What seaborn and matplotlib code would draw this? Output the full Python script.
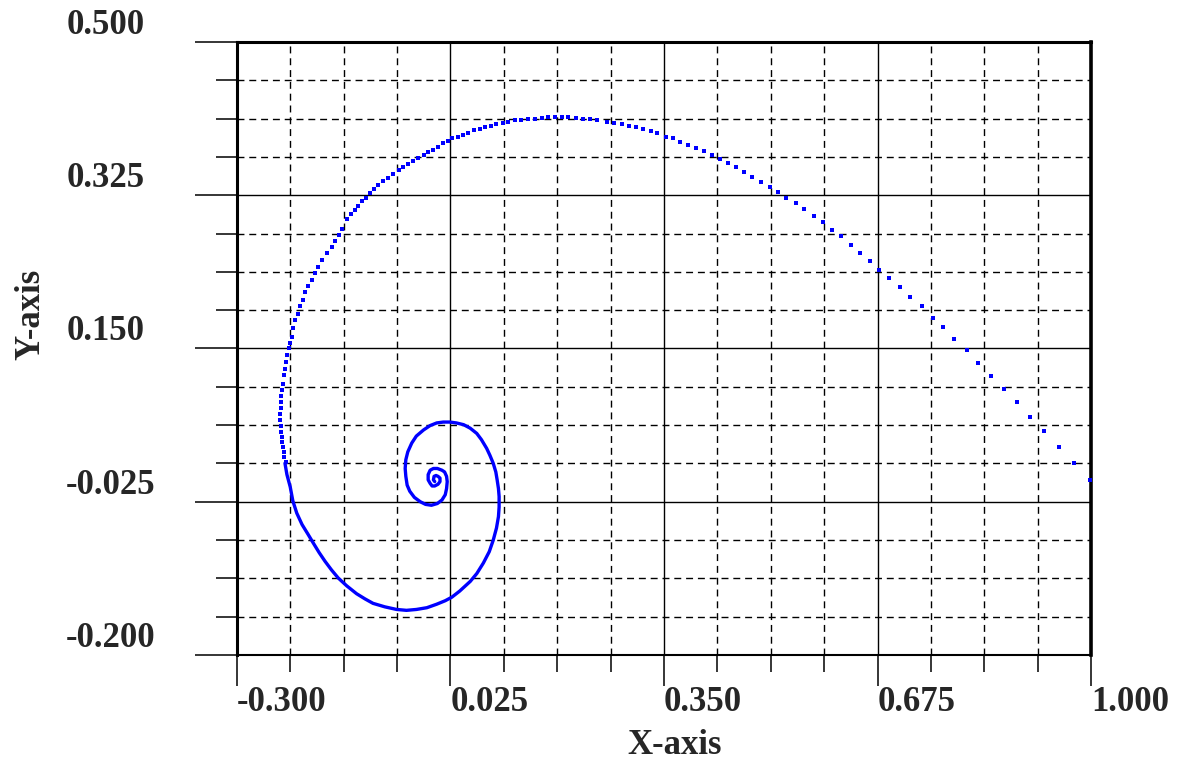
import numpy as np
import pandas as pd
import matplotlib
matplotlib.use("Agg")
import matplotlib.pyplot as plt
import seaborn as sns
from matplotlib.ticker import AutoMinorLocator

# Trayectoria: tramo de puntos sueltos (inicio rapido)
dots_x = [0.998, 0.974, 0.951, 0.929, 0.907, 0.887, 0.868, 0.848, 0.828, 0.811,
          0.791, 0.774, 0.759, 0.742, 0.725, 0.710, 0.693, 0.678, 0.664, 0.649,
          0.634, 0.619, 0.605, 0.592, 0.578, 0.563, 0.551, 0.536, 0.524, 0.511,
          0.497, 0.484, 0.472, 0.460, 0.447, 0.435, 0.423, 0.411, 0.398, 0.387,
          0.375, 0.364, 0.353, 0.340, 0.330, 0.318, 0.307, 0.296, 0.286, 0.274,
          0.263, 0.248, 0.237, 0.227, 0.216, 0.204, 0.194, 0.184, 0.174, 0.164,
          0.154, 0.143, 0.133, 0.123, 0.113, 0.105, 0.095, 0.087, 0.078, 0.070,
          0.061, 0.052, 0.044, 0.037, 0.028, 0.021, 0.014, 0.006, -0.001, -0.009,
          -0.016, -0.024, -0.032, -0.039, -0.047, -0.053, -0.062, -0.070, -0.077, -0.085,
          -0.091, -0.098, -0.104, -0.110, -0.116, -0.121, -0.126, -0.133, -0.140, -0.145,
          -0.151, -0.156, -0.163, -0.171, -0.176, -0.182, -0.186, -0.192, -0.196, -0.200,
          -0.204, -0.207, -0.211, -0.215, -0.217, -0.219, -0.221, -0.224, -0.225, -0.227,
          -0.229, -0.230, -0.232, -0.233, -0.233, -0.233, -0.234, -0.234, -0.233, -0.233,
          -0.232, -0.231, -0.230, -0.229, -0.228, -0.226]
dots_y = [0.000, 0.019, 0.037, 0.056, 0.072, 0.089, 0.104, 0.119, 0.133, 0.148,
          0.161, 0.174, 0.185, 0.198, 0.209, 0.220, 0.231, 0.240, 0.250, 0.259,
          0.268, 0.278, 0.285, 0.294, 0.301, 0.309, 0.316, 0.322, 0.329, 0.334,
          0.340, 0.346, 0.351, 0.357, 0.362, 0.366, 0.371, 0.376, 0.379, 0.382,
          0.386, 0.390, 0.392, 0.396, 0.398, 0.401, 0.403, 0.404, 0.406, 0.408,
          0.409, 0.411, 0.412, 0.412, 0.413, 0.414, 0.414, 0.414, 0.414, 0.413,
          0.412, 0.412, 0.411, 0.411, 0.409, 0.408, 0.406, 0.404, 0.403, 0.401,
          0.399, 0.396, 0.394, 0.392, 0.390, 0.387, 0.385, 0.380, 0.377, 0.374,
          0.371, 0.368, 0.364, 0.361, 0.357, 0.354, 0.349, 0.345, 0.341, 0.337,
          0.332, 0.328, 0.322, 0.318, 0.313, 0.308, 0.304, 0.298, 0.287, 0.280,
          0.273, 0.266, 0.259, 0.251, 0.243, 0.236, 0.228, 0.221, 0.214, 0.205,
          0.198, 0.189, 0.183, 0.173, 0.163, 0.156, 0.150, 0.143, 0.135, 0.127,
          0.120, 0.110, 0.103, 0.096, 0.089, 0.082, 0.075, 0.068, 0.062, 0.055,
          0.049, 0.043, 0.038, 0.032, 0.026, 0.020]

# Tramo denso (espiral final), se ve como trazo continuo
spiral_x = [-0.227, -0.224, -0.219, -0.215, -0.209, -0.201, -0.192, -0.184, -0.175, -0.166,
            -0.156, -0.146, -0.133, -0.118, -0.105, -0.093, -0.075, -0.057, -0.042, -0.027,
            -0.011, 0.004, 0.017, 0.027, 0.039, 0.055, 0.065, 0.075, 0.084, 0.090,
            0.095, 0.098, 0.099, 0.099, 0.098, 0.096, 0.094, 0.090, 0.085, 0.080,
            0.072, 0.065, 0.055, 0.045, 0.034, 0.024, 0.014, 0.004, -0.006, -0.016,
            -0.027, -0.034, -0.040, -0.043, -0.044, -0.043, -0.041, -0.037, -0.030, -0.021,
            -0.013, -0.004, 0.005, 0.012, 0.017, 0.019, 0.020, 0.019, 0.016, 0.012,
            0.005, -0.001, -0.006, -0.009, -0.009, -0.006, -0.003, 0.001, 0.006, 0.009,
            0.009, 0.006, 0.003, 0.000, -0.001, 0.001]
spiral_y = [0.019, 0.006, -0.008, -0.024, -0.038, -0.051, -0.062, -0.072, -0.083, -0.093,
            -0.103, -0.112, -0.121, -0.130, -0.136, -0.141, -0.145, -0.148, -0.149, -0.148,
            -0.146, -0.142, -0.138, -0.134, -0.127, -0.116, -0.107, -0.095, -0.082, -0.069,
            -0.055, -0.042, -0.031, -0.019, -0.010, 0.000, 0.009, 0.019, 0.028, 0.036,
            0.046, 0.053, 0.059, 0.063, 0.065, 0.066, 0.066, 0.065, 0.062, 0.057,
            0.050, 0.042, 0.032, 0.023, 0.013, 0.004, -0.006, -0.013, -0.020, -0.025,
            -0.028, -0.029, -0.027, -0.023, -0.017, -0.010, -0.002, 0.004, 0.009, 0.011,
            0.013, 0.013, 0.011, 0.006, 0.000, -0.004, -0.007, -0.007, -0.005, -0.002,
            0.002, 0.004, 0.005, 0.004, 0.000, -0.002]

x_ticks = [-0.300, 0.025, 0.350, 0.675, 1.000]
y_ticks = [-0.200, -0.025, 0.150, 0.325, 0.500]

sns.set_style("white")
plt.rcParams['font.family'] = ['Liberation Serif', 'DejaVu Serif']
plt.rcParams['font.weight'] = 'bold'

fig = plt.figure(figsize=(11.81, 7.64), dpi=100)
ax = fig.add_axes([237 / 1181, 1 - 655 / 764, 854 / 1181, 613 / 764])

sns.lineplot(x=spiral_x, y=spiral_y, sort=False, estimator=None,
             color='#0000ff', lw=2.4, ax=ax, zorder=3)
sns.scatterplot(x=dots_x, y=dots_y, marker='s', s=5, color='#0000ff',
                linewidth=0, ax=ax, zorder=3)

ax.set_xlim(-0.3, 1.0)
ax.set_ylim(-0.2, 0.5)
ax.set_xticks(x_ticks, labels=[f"{v:.3f}" for v in x_ticks])
ax.set_yticks(y_ticks, labels=[f"{v:.3f}" for v in y_ticks])
ax.xaxis.set_minor_locator(AutoMinorLocator(4))
ax.yaxis.set_minor_locator(AutoMinorLocator(4))

# rejilla: mayor continua, menor discontinua
ax.grid(which='major', color='black', lw=1.0, ls='-', zorder=1)
ax.grid(which='minor', color='black', lw=1.0, ls=(0, (5, 3.5)), zorder=1)
ax.set_axisbelow(True)

ax.tick_params(axis='both', which='both', direction='out', color='black',
               width=1.1, labelsize=25, bottom=True, left=True)
ax.tick_params(axis='y', which='major', length=30, pad=93)
ax.tick_params(axis='y', which='minor', length=15)
ax.tick_params(axis='x', which='major', length=22, pad=0)
ax.tick_params(axis='x', which='minor', length=12)
plt.setp(ax.get_yticklabels(), ha='left', va='bottom', fontweight='bold')
plt.setp(ax.get_xticklabels(), ha='left', fontweight='bold')

for side in ['top', 'left']:
    ax.spines[side].set_linewidth(2.2)
ax.spines['right'].set_linewidth(2.6)
ax.spines['bottom'].set_linewidth(1.5)
for sp in ax.spines.values():
    sp.set_color('black')
    sp.set_visible(True)

ax.set_xlabel("X-axis", fontsize=25, fontweight='bold', va='center')
ax.set_ylabel("Y-axis", fontsize=25, fontweight='bold', va='center')
ax.xaxis.set_label_coords((675 - 237) / 854, (655 - 746) / 613)
ax.yaxis.set_label_coords((31 - 237) / 854, (655 - 314) / 613)

fig.savefig("out.png", dpi=100)
